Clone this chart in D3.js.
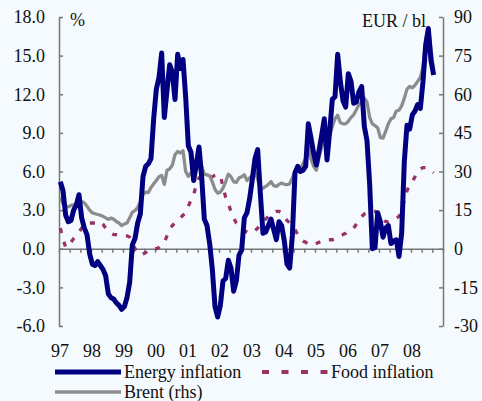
<!DOCTYPE html>
<html>
<head>
<meta charset="utf-8">
<script src="https://cdn.jsdelivr.net/npm/d3@7"></script>
<style>
    html, body { margin: 0; padding: 0; background: #f5fafe; }
    svg { display: block; }
    svg text { font-family: "Liberation Serif", "Times New Roman", serif; }
</style>
</head>
<body>
<div id="chart"></div>
<script>
// monthly, Jan 1997 .. Sep 2008
const energyInflation = [
    5.2, 4.5, 2.6, 2.1, 2.2, 3.0, 3.4, 4.2, 2.4, 1.6, 1.1, -0.4,        // 97
    -1.2, -1.3, -1.0, -1.3, -1.6, -2.1, -3.5, -3.8, -3.9, -4.2, -4.4, -4.7, // 98
    -4.5, -3.8, -2.6, 0.3, 0.8, 2.0, 2.7, 5.6, 6.4, 6.6, 7.0, 10.1,    // 99
    12.4, 13.3, 15.2, 10.2, 12.3, 14.3, 13.7, 11.6, 15.1, 14.0, 14.7, 11.8, // 00
    8.0, 7.5, 5.3, 6.6, 7.9, 5.6, 2.3, 1.8, 0.4, -1.6, -4.5, -5.3,      // 01
    -4.4, -2.5, -2.3, -0.9, -1.5, -3.3, -2.5, -0.5, -0.1, 2.4, 2.8, 3.9, // 02
    5.4, 7.0, 7.7, 4.3, 1.2, 1.3, 1.8, 2.3, 1.5, 0.7, 2.1, 1.8,         // 03
    0.6, -1.2, -1.5, 1.0, 5.9, 6.4, 6.0, 6.1, 6.4, 9.7, 8.6, 7.4,       // 04
    6.5, 7.6, 8.8, 10.1, 6.9, 9.1, 11.6, 11.8, 15.1, 13.0, 11.5, 11.0,  // 05
    13.6, 13.0, 11.3, 11.4, 12.2, 12.6, 9.5, 8.4, 5.0, 0.0, 0.1, 2.8,   // 06
    2.1, 0.9, 1.6, 1.8, 0.4, 0.6, 0.7, -0.6, 1.2, 6.8, 9.6, 9.3,        // 07
    10.4, 10.7, 11.2, 10.9, 13.0, 15.8, 17.1, 14.6, 13.5                // 08
];
const foodInflation = [
    1.6, 0.8, 0.1, 0.2, 0.5, 0.8, 1.0, 1.3, 1.6, 1.9, 2.0, 2.0,
    2.0, 2.0, 2.1, 2.1, 1.9, 1.6, 1.4, 1.2, 1.1, 1.1, 1.1, 1.0,
    1.0, 1.0, 0.9, 0.5, 0.0, -0.3, -0.5, -0.4, -0.3, -0.1, 0.0, 0.0,
    0.0, 0.1, 0.3, 0.5, 1.0, 1.5, 1.8, 2.0, 2.2, 2.4, 2.6, 2.8,
    3.3, 3.8, 4.2, 5.0, 5.5, 5.5, 5.5, 5.5, 5.5, 5.6, 5.7, 5.75,
    5.7, 4.8, 4.0, 3.5, 2.9, 2.4, 2.0, 1.8, 1.6, 1.4, 1.3, 1.2,
    1.3, 1.4, 1.6, 1.9, 2.1, 2.3, 2.5, 2.7, 2.8, 2.9, 2.9, 2.8,
    2.5, 2.2, 2.0, 1.8, 1.5, 1.1, 0.8, 0.6, 0.5, 0.4, 0.3, 0.3,
    0.4, 0.5, 0.6, 0.7, 0.7, 0.7, 0.7, 0.8, 0.9, 1.0, 1.1, 1.2,
    1.4, 1.5, 1.6, 1.9, 2.2, 2.5, 2.7, 2.8, 2.9, 2.9, 2.9, 2.8,
    2.5, 2.3, 2.1, 2.1, 2.2, 2.3, 2.4, 2.5, 2.9, 3.8, 4.5, 5.0,
    5.2, 5.6, 6.0, 6.2, 6.3, 6.3, 6.2, 6.1, 5.9
];
const brent = [
    20.0, 17.5, 16.3, 16.3, 16.8, 17.0, 17.5, 17.6, 18.4, 17.8, 16.5, 15.0,
    13.9, 13.6, 13.3, 13.0, 12.6, 12.0, 11.4, 11.9, 11.5, 10.6, 10.0, 9.0,
    9.6, 10.0, 12.0, 14.2, 14.8, 16.0, 18.2, 21.0, 22.0, 21.8, 23.8, 25.2,
    26.5, 28.0, 28.5, 25.0, 30.5, 31.0, 32.5, 36.5, 37.8, 37.2, 38.1, 30.0,
    28.1, 29.5, 29.0, 30.5, 32.0, 32.0, 29.0, 28.7, 28.3, 26.0, 23.0, 21.6,
    22.0, 23.5, 26.0, 29.0, 28.0, 26.0, 25.8, 27.5, 28.0, 28.7, 26.5, 27.5,
    28.5, 30.0, 27.0, 23.0, 23.5, 24.2, 25.0, 26.1, 24.5, 24.2, 25.0, 25.5,
    25.0, 24.9, 25.2, 27.5, 29.8, 30.5, 31.3, 33.0, 35.0, 39.7, 35.0, 32.0,
    30.5, 35.5, 39.5, 42.0, 40.0, 44.0, 47.5, 50.5, 51.8, 49.0, 48.5, 48.5,
    49.5, 51.0, 52.0, 54.0, 56.0, 57.2, 58.5, 57.0, 51.0, 48.5, 47.8, 47.0,
    43.2, 43.0, 45.6, 48.5, 50.5, 51.0, 53.5, 53.8, 55.5, 58.5, 62.0, 63.0,
    62.5, 63.5, 65.0, 66.5, 70.5, 81.0, 85.7, 77.3, 69.5
];
const yearLabels = ["97", "98", "99", "00", "01", "02", "03", "04", "05", "06", "07", "08"];
const leftTicks = [-6, -3, 0, 3, 6, 9, 12, 15, 18];
const rightTicks = [-30, -15, 0, 15, 30, 45, 60, 75, 90];
const seriesNames = ["Energy inflation", "Food inflation", "Brent (rhs)"];

const W = 482, H = 401;
const plotLeft = 59, plotRight = 443, plotTop = 17, plotBottom = 326;
const months = yearLabels.length * 12;
const fontSize = 18;

const svg = d3.select("#chart").append("svg")
    .attr("width", W)
    .attr("height", H);

const x = d3.scaleLinear().domain([0, months]).range([plotLeft, plotRight]);
const yL = d3.scaleLinear().domain([-6, 18]).range([plotBottom, plotTop]);
const yR = d3.scaleLinear().domain([-30, 90]).range([plotBottom, plotTop]);

const axisColor = "#777";
const textColor = "#111";

function styleAxis (g) {
    g.attr("font-family", null).attr("font-size", null);
    g.select(".domain").attr("stroke", axisColor).attr("stroke-width", 1.5);
    g.selectAll(".tick line").attr("stroke", axisColor).attr("stroke-width", 1.5);
    g.selectAll(".tick text")
        .attr("fill", textColor)
        .attr("font-size", fontSize);
}

// left axis, ticks pointing inward
svg.append("g")
    .attr("transform", `translate(${plotLeft},0)`)
    .call(d3.axisLeft(yL).tickValues(leftTicks).tickSize(-4).tickPadding(14)
        .tickFormat(d => d.toFixed(1)).tickSizeOuter(0))
    .call(styleAxis);

// right axis
svg.append("g")
    .attr("transform", `translate(${plotRight},0)`)
    .call(d3.axisRight(yR).tickValues(rightTicks).tickSize(-4).tickPadding(11)
        .tickFormat(d => String(d)).tickSizeOuter(0))
    .call(styleAxis);

// time axis on the zero line, tick every four months
svg.append("g")
    .attr("transform", `translate(0,${yL(0)})`)
    .call(d3.axisBottom(x).tickValues(d3.range(0, months + 1, 4)).tickSize(4)
        .tickFormat("").tickSizeOuter(0))
    .call(styleAxis);

svg.append("g")
    .selectAll("text")
    .data(yearLabels)
    .join("text")
    .attr("x", (d, i) => x(i * 12) + 1)
    .attr("y", 357)
    .attr("text-anchor", "middle")
    .attr("font-size", fontSize)
    .attr("fill", textColor)
    .text(d => d);

svg.append("text")
    .attr("x", 70).attr("y", 26)
    .attr("font-size", fontSize).attr("fill", textColor)
    .text("%");

svg.append("text")
    .attr("x", 426).attr("y", 27)
    .attr("text-anchor", "end")
    .attr("font-size", fontSize).attr("fill", textColor)
    .text("EUR / bl");

const px = (d, i) => x(i + 0.5);

const lineL = d3.line().x(px).y(d => yL(d));
const lineR = d3.line().x(px).y(d => yR(d));

svg.append("path")
    .datum(foodInflation)
    .attr("fill", "none")
    .attr("stroke", "#993366")
    .attr("stroke-width", 3.3)
    .attr("stroke-dasharray", "5,9")
    .attr("d", lineL);

svg.append("path")
    .datum(brent)
    .attr("fill", "none")
    .attr("stroke", "#8c8c8c")
    .attr("stroke-width", 3.3)
    .attr("stroke-linejoin", "round")
    .attr("d", lineR);

svg.append("path")
    .datum(energyInflation)
    .attr("fill", "none")
    .attr("stroke", "#000080")
    .attr("stroke-width", 5)
    .attr("stroke-linejoin", "round")
    .attr("d", lineL);

// legend
const legendItems = [
    { name: seriesNames[0], x: 55, y: 372, color: "#000080", width: 5, dash: null },
    { name: seriesNames[1], x: 262, y: 372, color: "#993366", width: 4, dash: "7,12.5" },
    { name: seriesNames[2], x: 55, y: 392, color: "#8c8c8c", width: 3.3, dash: null }
];

const legend = svg.append("g")
    .selectAll("g")
    .data(legendItems)
    .join("g")
    .attr("transform", d => `translate(${d.x},${d.y})`);

legend.append("line")
    .attr("x1", 0).attr("x2", 66)
    .attr("stroke", d => d.color)
    .attr("stroke-width", d => d.width)
    .attr("stroke-dasharray", d => d.dash);

legend.append("text")
    .attr("x", 69).attr("y", 5.5)
    .attr("font-size", fontSize)
    .attr("fill", textColor)
    .text(d => d.name);
</script>
</body>
</html>
